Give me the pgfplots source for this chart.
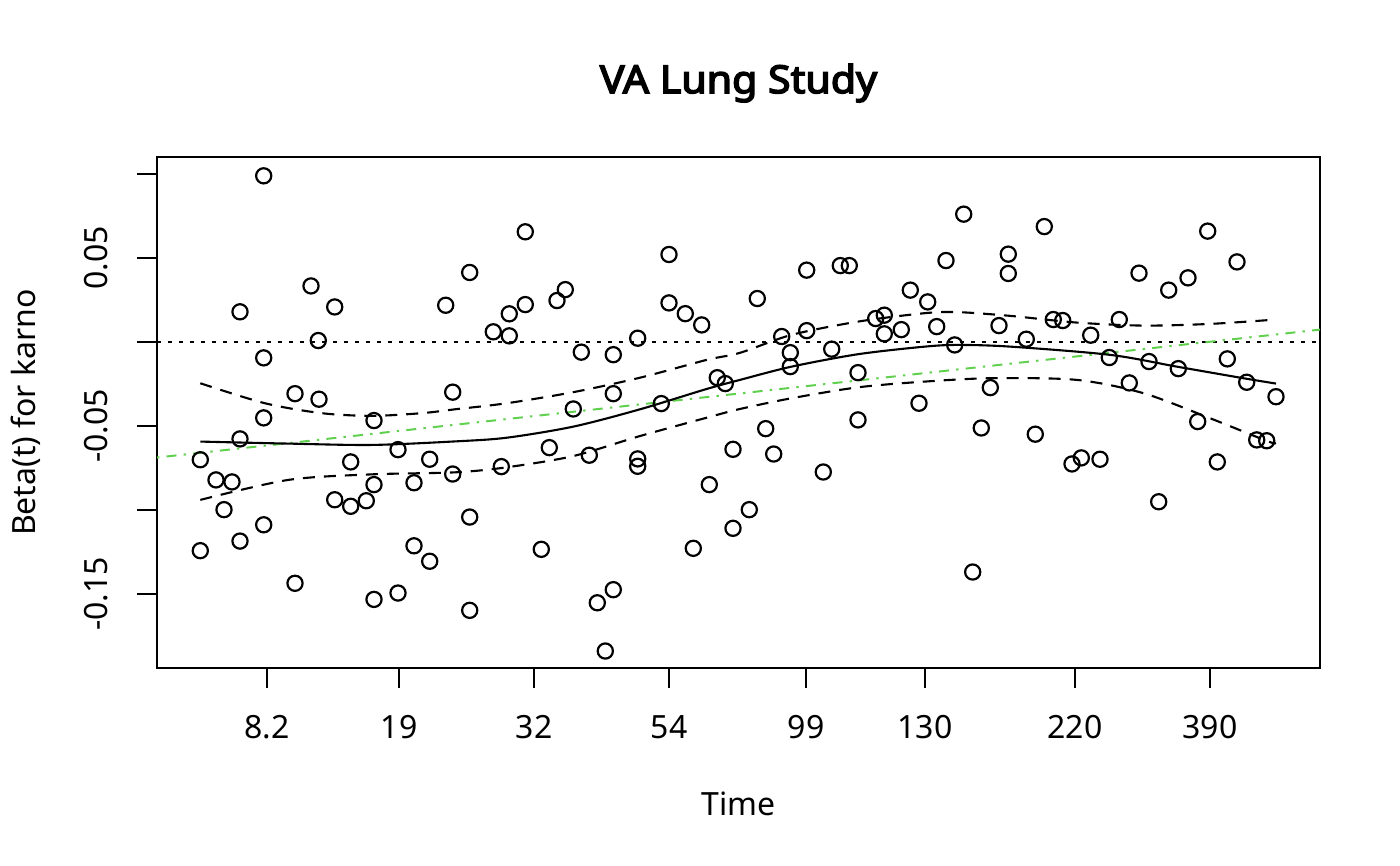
\documentclass[border=0pt]{standalone}
\usepackage{fontspec}
\setmainfont{Noto Sans}
\newfontfamily\titlefont{Noto Sans}[FakeBold=4, FakeStretch=1.07]
\usepackage{pgfplots}
\pgfplotsset{compat=1.18}
\definecolor{rgreen}{HTML}{61D04F}
\begin{document}
\begin{tikzpicture}
\path[use as bounding box] (-78.5bp,-99bp) rectangle (621.5bp,334bp);
\begin{axis}[
  at={(0,0)}, anchor=south west,
  scale only axis, width=581.5bp, height=255.5bp,
  xmin=157, xmax=1320, ymin=-0.194, ymax=0.110,
  axis line style={line width=0.8bp},
  tick align=outside, major tick length=10bp,
  tick style={line width=0.8bp, black},
  xtick pos=bottom, ytick pos=left,
  xtick={267,399,534,669,806,925,1075,1210},
  xticklabels={8.2,19,32,54,99,130,220,390},
  ytick={-0.15,-0.1,-0.05,0,0.05,0.1},
  yticklabels={-0.15,,-0.05,,0.05,},
  tick label style={font=\fontsize{16bp}{19bp}\selectfont},
  xticklabel style={anchor=base, yshift=-25.2bp},
  yticklabel style={anchor=base, xshift=-14.5bp, rotate=90},
  title={VA Lung Study},
  title style={at={(0.5,1)}, anchor=base, yshift=26bp, font=\titlefont\fontsize{19.2bp}{23bp}\selectfont},
  clip=true,
]
% zero reference line
\addplot[black, line width=1bp, dash pattern=on 2bp off 3.5bp] coordinates {(157,0) (1320,0)};
% green line
\addplot[rgreen, line width=1bp, dash pattern=on 1.2bp off 3.6bp on 5bp off 3.6bp] coordinates {(157,-0.0688) (1320,0.0073)};
% smooth fit
\addplot[black, line width=1.05bp, smooth] coordinates {
(200.3,-0.0593) (288.3,-0.0605) (371.7,-0.0613) (455,-0.0592) (506.7,-0.0570) (573.3,-0.0504) (640,-0.0401) (706.7,-0.0280) (740,-0.0226) (791.7,-0.0147) (858.3,-0.0073) (925,-0.0028) (958.3,-0.0018) (1010,-0.0028) (1110,-0.0077) (1176.7,-0.0147) (1243.3,-0.0216) (1276,-0.0248)};
% upper band
\addplot[black, line width=1.05bp, smooth, dash pattern=on 6bp off 4.5bp] coordinates {
(200.3,-0.0246) (265,-0.0365) (321.7,-0.0424) (371.7,-0.0440) (421.7,-0.0424) (455,-0.0401) (506.7,-0.0365) (573.3,-0.0299) (640,-0.0213) (706.7,-0.0107) (740,-0.0065) (791.7,0.0042) (858.3,0.0121) (925,0.0171) (958.3,0.0177) (1010,0.0155) (1076.7,0.0115) (1143.3,0.0097) (1210,0.0107) (1276,0.0133)};
% lower band
\addplot[black, line width=1.05bp, smooth, dash pattern=on 6bp off 4.5bp] coordinates {
(200.3,-0.0940) (288.3,-0.0821) (371.7,-0.0788) (455,-0.0776) (506.7,-0.0746) (573.3,-0.0679) (640,-0.0560) (706.7,-0.0451) (740,-0.0399) (791.7,-0.0335) (858.3,-0.0270) (925,-0.0236) (991.7,-0.0216) (1076.7,-0.0226) (1143.3,-0.0305) (1210,-0.0454) (1266.7,-0.0589) (1276,-0.0603)};
% residual points
\addplot[only marks, mark=o, mark size=3.8bp, mark options={line width=1.1bp, black}] coordinates {
(263.7,0.0988) (311,0.0333) (240,0.0179) (334.7,0.0208) (445.7,0.0218) (318.3,0.0008) (263.7,-0.0095) (295,-0.0308) (319,-0.0341) (452.7,-0.0299)
(263.7,-0.0452) (374,-0.0468) (240,-0.0577) (200.3,-0.0701) (398,-0.0641) (350.7,-0.0714) (429.7,-0.0698) (452.7,-0.0786) (216,-0.0821) (232,-0.0833)
(374,-0.0849) (414,-0.0838) (334.7,-0.0939) (350.7,-0.0978) (366.3,-0.0945) (224,-0.0998) (263.7,-0.1088) (240,-0.1185) (200.3,-0.1242) (414,-0.1213)
(429.7,-0.1305) (295,-0.1436) (374,-0.1532) (398,-0.1494)
(469.7,0.0413) (525.3,0.0655) (565.3,0.0311) (557,0.0246) (525.3,0.0222) (509.3,0.0167) (493.3,0.0060) (509.3,0.0036) (669,0.0520) (669,0.0232)
(685.3,0.0168) (701.7,0.0101) (637.7,0.0022) (581.3,-0.0061) (613.3,-0.0076) (613.3,-0.0308) (573.3,-0.0399) (661.3,-0.0367) (717.3,-0.0213) (725.3,-0.0248)
(733,-0.0639) (549.3,-0.0629) (589.3,-0.0674) (637.7,-0.0696) (637.7,-0.0740) (501.3,-0.0742) (709.3,-0.0849) (469.7,-0.1042) (733,-0.1109) (693.3,-0.1228)
(541.3,-0.1234) (613.3,-0.1474) (597.3,-0.1552) (469.7,-0.1597) (605.3,-0.1839)
(963.7,0.0760) (946,0.0484) (1008.3,0.0522) (1008.3,0.0407) (806.7,0.0427) (840.3,0.0454) (849.3,0.0454) (757.3,0.0258) (910.3,0.0308) (927.7,0.0238)
(875.7,0.0139) (884.3,0.0159) (884.3,0.0048) (901.3,0.0073) (936.7,0.0091) (999,0.0097) (781.7,0.0032) (806.7,0.0067) (790.3,-0.0064) (790.3,-0.0147)
(831.7,-0.0043) (954.7,-0.0018) (858,-0.0183) (990.3,-0.0272) (919,-0.0365) (858,-0.0464) (765.7,-0.0516) (981.3,-0.0512) (773.7,-0.0667) (823.3,-0.0774)
(749.3,-0.0998) (972.7,-0.1369)
(1044.3,0.0686) (1207.7,0.0659) (1237,0.0476) (1139,0.0409) (1188,0.0381) (1168.7,0.0308) (1053.3,0.0133) (1062.7,0.0127) (1119.3,0.0133) (1090.7,0.0040)
(1026.3,0.0016) (1109.3,-0.0093) (1149,-0.0117) (1178.3,-0.0159) (1227.3,-0.0101) (1129.3,-0.0244) (1246.7,-0.0240) (1276,-0.0326) (1197.7,-0.0474) (1035.3,-0.0549)
(1256.7,-0.0583) (1266.7,-0.0588) (1072,-0.0726) (1081.3,-0.0690) (1100,-0.0698) (1217.3,-0.0714) (1158.7,-0.0951)};
\end{axis}
\node[anchor=base, font=\fontsize{16bp}{19bp}\selectfont] at (290.75bp,-73.5bp) {Time};
\node[anchor=base, rotate=90, font=\fontsize{16bp}{19bp}\selectfont] at (-60.5bp,127.75bp) {Beta(t) for karno};
\end{tikzpicture}
\end{document}
